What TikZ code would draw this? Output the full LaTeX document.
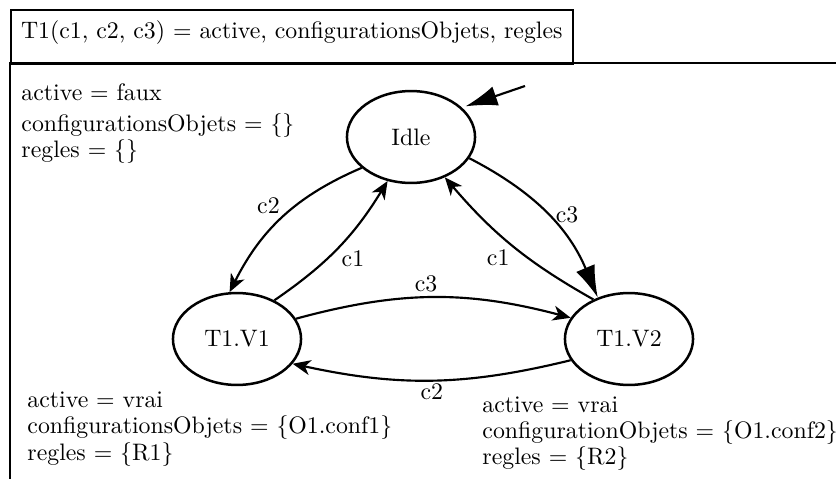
\documentclass[tikz,border=0pt]{standalone}
\usetikzlibrary{shapes.geometric,arrows.meta}
\begin{document}
\begin{tikzpicture}[x=0.42pt,y=-0.42pt,
  state/.style={ellipse,draw,line width=1.05pt,minimum width=53.8pt,minimum height=38.6pt,inner sep=0pt},
  trans/.style={-{Stealth[length=7.5pt,width=6.3pt,inset=2.2pt]},line width=0.9pt},
  bigtrans/.style={-{Latex[length=13.4pt,width=8.4pt]},line width=0.9pt},
  lbl/.style={inner sep=1pt},
  info/.style={anchor=base west,inner sep=0pt}]
\useasboundingbox (0,0) rectangle (836,479);
% frame
\draw[line width=0.85pt] (836,63) -- (10,63) -- (10,479);
\node[draw,line width=0.85pt,anchor=north west,inner ysep=0pt,inner xsep=4.2pt,
      text height=11.8pt,text depth=10.9pt] (header) at (10,9)
  {T1(c1, c2, c3) = active, configurationsObjets, regles};
% states
\node[state] (idle) at (411,137) {Idle};
\node[state] (v1) at (237,339) {T1.V1};
\node[state] (v2) at (629,339) {T1.V2};
\coordinate (init) at (525,86);
\draw[bigtrans,shorten >=1.5pt] (init) -- (idle.30);
% transitions
\draw[trans] (idle.212) to[bend right=20] node[lbl,above left] {c2} (v1.99);
\draw[trans] (v1.46) to[bend right=12] node[lbl,below right] {c1} (idle.242);
\draw[bigtrans] (idle.340) to[bend left=20] node[lbl,right,xshift=2pt] {c3} (v2.127);
\draw[trans] (v2.132) to[bend left=10] node[lbl,below left] {c1} (idle.310);
\draw[trans] (v1.19) to[bend left=15] node[lbl,above,xshift=-3pt,yshift=1pt] {c3} (v2.160);
\draw[trans] (v2.200) to[bend left=13] node[lbl,below] {c2} (v1.336);
% info blocks
\node[info] (i0a) at (21,100) {active = faux};
\node[info] (i0b) at (21,131) {configurationsObjets = \{\}};
\node[info] (i0c) at (21,157) {regles = \{\}};
\node[info] (i1a) at (27,407) {active = vrai};
\node[info] (i1b) at (27,433) {configurationsObjets = \{O1.conf1\}};
\node[info] (i1c) at (27,460) {regles = \{R1\}};
\node[info] (i2a) at (482,412) {active = vrai};
\node[info] (i2b) at (482,438) {configurationObjets = \{O1.conf2\}};
\node[info] (i2c) at (482,464) {regles = \{R2\}};
\end{tikzpicture}
\end{document}
